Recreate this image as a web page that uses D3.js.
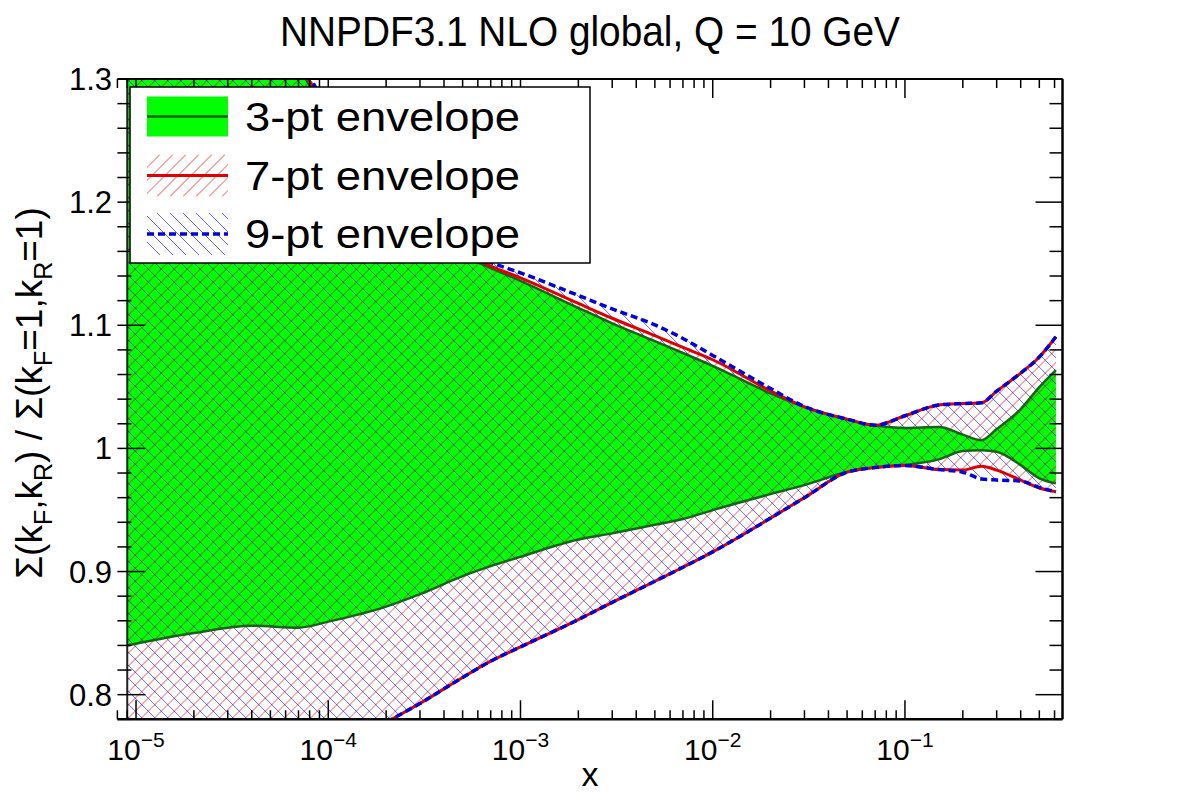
<!DOCTYPE html>
<html>
<head>
<meta charset="utf-8">
<script src="https://cdn.jsdelivr.net/npm/d3@7"></script>
<style>
  body { margin: 0; background: #fff; }
  svg { display: block; }
  text { font-family: "Liberation Sans", Arial, Helvetica, sans-serif; fill: #000; }
</style>
</head>
<body>
<svg width="1182" height="800"></svg>
<script>
// x grid (momentum fraction) and the six envelope curves
const xs = [9e-6, 2e-5, 4e-5, 7e-5, 1e-4, 2e-4, 3e-4, 5e-4, 7e-4, 1e-3, 2e-3, 3e-3, 5e-3, 7e-3,
  1e-2, 2e-2, 3e-2, 5e-2, 7e-2, 0.1, 0.15, 0.2, 0.25, 0.3, 0.4, 0.5, 0.61];

const env3Hi = [1.60, 1.48, 1.38, 1.310, 1.270, 1.208, 1.181, 1.157, 1.1465, 1.1361, 1.1141, 1.1016, 1.0871, 1.0775,
  1.067, 1.0447, 1.0337, 1.0236, 1.0188, 1.0166, 1.0173, 1.0112, 1.0067, 1.0157, 1.032, 1.0498, 1.0636];
const env3Lo = [0.840, 0.850, 0.856, 0.8544, 0.8593, 0.8715, 0.8816, 0.8963, 0.9044, 0.912, 0.926, 0.931, 0.938, 0.9426,
  0.9499, 0.9629, 0.9702, 0.9808, 0.9846, 0.9865, 0.9911, 0.9978, 0.9986, 0.9973, 0.9864, 0.9756, 0.9716];

const env7Hi = [1.61, 1.49, 1.385, 1.314, 1.273, 1.211, 1.1835, 1.159, 1.148, 1.1385, 1.1177, 1.1057, 1.0915, 1.082,
  1.072, 1.0467, 1.0338, 1.0237, 1.0188, 1.0265, 1.0352, 1.0364, 1.0370, 1.0465, 1.0612, 1.0742, 1.0907];
const env7Lo = [0.66, 0.69, 0.715, 0.735, 0.750, 0.7775, 0.7929, 0.814, 0.8272, 0.8388, 0.861, 0.875, 0.8921, 0.9035,
  0.916, 0.9434, 0.960, 0.9807, 0.9844, 0.9862, 0.9828, 0.9824, 0.9855, 0.9824, 0.9742, 0.9678, 0.9648];

const env9Hi = [1.62, 1.50, 1.39, 1.318, 1.276, 1.213, 1.1855, 1.161, 1.151, 1.1426, 1.1242, 1.1133, 1.1003, 1.0893,
  1.0755, 1.0486, 1.0340, 1.0238, 1.0188, 1.0265, 1.0352, 1.0364, 1.0370, 1.0465, 1.0612, 1.0742, 1.0907];
const env9Lo = [0.66, 0.69, 0.715, 0.735, 0.750, 0.7775, 0.7929, 0.814, 0.8272, 0.8388, 0.861, 0.875, 0.8921, 0.9035,
  0.916, 0.9434, 0.960, 0.9807, 0.9844, 0.9862, 0.9828, 0.9807, 0.9752, 0.9743, 0.9735, 0.9682, 0.9648];

const legendLabels = ["3-pt envelope", "7-pt envelope", "9-pt envelope"];
const xMajor = [1e-5, 1e-4, 1e-3, 1e-2, 1e-1];
const yLabels = [0.8, 0.9, 1, 1.1, 1.2, 1.3];

const svg = d3.select("svg");
const pL = 117.4, pR = 1062.5, pT = 79, pB = 719.3;

const x = d3.scaleLog().domain([8e-6, 0.66]).range([pL, pR]);
const y = d3.scaleLinear().domain([0.78, 1.3]).range([pB, pT]);

const defs = svg.append("defs");
defs.append("clipPath").attr("id", "plotClip")
  .append("rect").attr("x", pL).attr("y", pT).attr("width", pR - pL).attr("height", pB - pT);

// diagonal hatch lines inside a box, dir 1 = "/" , dir -1 = "\"
function hatchPath(x0, y0, x1, y1, s, dir) {
  const p = d3.path();
  if (dir > 0) {
    for (let c = x0 + y0; c <= x1 + y1 + s; c += s) { p.moveTo(c - y1, y1); p.lineTo(c - y0, y0); }
  } else {
    for (let c = x0 - y1 - s; c <= x1 - y0 + s; c += s) { p.moveTo(c + y0, y0); p.lineTo(c + y1, y1); }
  }
  return p.toString();
}
const redHatch = { stroke: "#dc0000", op: 0.42, w: 1.1, dir: 1 };
const blueHatch = { stroke: "#0000ff", op: 0.8, w: 0.75, dir: -1 };
function drawHatch(g, clipId, box, h) {
  g.append("path").attr("clip-path", `url(#${clipId})`)
    .attr("d", hatchPath(box[0], box[1], box[2], box[3], 13, h.dir))
    .attr("fill", "none").attr("stroke", h.stroke).attr("stroke-opacity", h.op).attr("stroke-width", h.w);
}

const band = (hi, lo) => xs.map((v, i) => ({ x: v, hi: hi[i], lo: lo[i] }));
const area = d3.area().x(d => x(d.x)).y0(d => y(d.lo)).y1(d => y(d.hi)).curve(d3.curveMonotoneX);
const lineHi = d3.line().x(d => x(d.x)).y(d => y(d.hi)).curve(d3.curveMonotoneX);
const lineLo = d3.line().x(d => x(d.x)).y(d => y(d.lo)).curve(d3.curveMonotoneX);

const b3 = band(env3Hi, env3Lo), b7 = band(env7Hi, env7Lo), b9 = band(env9Hi, env9Lo);
defs.append("clipPath").attr("id", "clip7").append("path").attr("d", area(b7));
defs.append("clipPath").attr("id", "clip9").append("path").attr("d", area(b9));

const plot = svg.append("g").attr("clip-path", "url(#plotClip)");
const box = [pL, pT, pR, pB];
plot.append("path").attr("d", area(b3)).attr("fill", "#00ff00");
drawHatch(plot, "clip7", box, redHatch);
drawHatch(plot, "clip9", box, blueHatch);

for (const gen of [lineHi, lineLo]) {
  plot.append("path").attr("d", gen(b3)).attr("fill", "none").attr("stroke", "#176317").attr("stroke-width", 2.5);
}
for (const gen of [lineHi, lineLo]) {
  plot.append("path").attr("d", gen(b7)).attr("fill", "none").attr("stroke", "#e00000").attr("stroke-width", 3);
}
for (const gen of [lineHi, lineLo]) {
  plot.append("path").attr("d", gen(b9)).attr("fill", "none").attr("stroke", "#0000e0")
    .attr("stroke-width", 3.5).attr("stroke-dasharray", "7,4");
}

// frame
const frame = svg.append("g").attr("stroke", "#000").attr("fill", "none");
frame.append("line").attr("x1", pL).attr("x2", pR).attr("y1", pT).attr("y2", pT).attr("stroke-width", 2);
frame.append("line").attr("x1", pL).attr("x2", pR).attr("y1", pB).attr("y2", pB).attr("stroke-width", 2.5);
frame.append("line").attr("x1", pR).attr("x2", pR).attr("y1", pT).attr("y2", pB).attr("stroke-width", 2.5);
frame.append("line").attr("x1", x(xs[0])).attr("x2", x(xs[0])).attr("y1", pT).attr("y2", pB)
  .attr("stroke", "#222").attr("stroke-width", 2);

// x ticks (bottom + top)
const isMajor = v => Math.abs(Math.log10(v) - Math.round(Math.log10(v))) < 1e-9;
for (const t of x.ticks()) {
  const len = isMajor(t) ? 19 : 9;
  frame.append("line").attr("x1", x(t)).attr("x2", x(t)).attr("y1", pB).attr("y2", pB - len).attr("stroke-width", 1.5);
  frame.append("line").attr("x1", x(t)).attr("x2", x(t)).attr("y1", pT).attr("y2", pT + len).attr("stroke-width", 1.5);
}
// y ticks (left + right)
for (let i = 39; i <= 65; i++) {
  const v = i / 50, major = i % 5 === 0;
  frame.append("line").attr("x1", pL).attr("x2", pL + (major ? 28 : 14)).attr("y1", y(v)).attr("y2", y(v)).attr("stroke-width", 1.5);
  frame.append("line").attr("x1", pR).attr("x2", pR - (major ? 27 : 13)).attr("y1", y(v)).attr("y2", y(v)).attr("stroke-width", 1.5);
}

// tick labels
svg.append("g").selectAll("text").data(yLabels).join("text")
  .attr("x", 112).attr("y", d => y(d) + 11).attr("text-anchor", "end").attr("font-size", 31)
  .text(d => String(d));

const xl = svg.append("g").selectAll("text").data(xMajor).join("text")
  .attr("x", d => x(d)).attr("y", 760).attr("text-anchor", "middle").attr("font-size", 30);
xl.append("tspan").text("10");
xl.append("tspan").attr("dy", -13).attr("font-size", 21).text(d => "\u2212" + Math.round(-Math.log10(d)));

// axis titles
svg.append("text").attr("x", 590).attr("y", 786).attr("text-anchor", "middle").attr("font-size", 34).text("x");

const yt = svg.append("text").attr("transform", "translate(42,393) rotate(-90)")
  .attr("text-anchor", "middle").attr("font-size", 37);
const parts = [["Σ(k", 0], ["F", 1], [",k", 0], ["R", 1], [") / Σ(k", 0], ["F", 1], ["=1,k", 0], ["R", 1], ["=1)", 0]];
let lvl = 0;
for (const [s, sub] of parts) {
  const dy = (sub ? 10 : 0) - (lvl ? 10 : 0);
  yt.append("tspan").attr("dy", dy).attr("font-size", sub ? 25 : 37).text(s);
  lvl = sub;
}

// title
svg.append("text").attr("x", 590).attr("y", 46).attr("text-anchor", "middle").attr("font-size", 42)
  .attr("textLength", 620).attr("lengthAdjust", "spacingAndGlyphs")
  .text("NNPDF3.1 NLO global, Q = 10 GeV");

// legend
const lg = svg.append("g");
lg.append("rect").attr("x", 130).attr("y", 87).attr("width", 460).attr("height", 176)
  .attr("fill", "#fff").attr("stroke", "#000").attr("stroke-width", 1.5);
const rowY = [116.5, 175.5, 234];
lg.append("rect").attr("x", 147).attr("y", rowY[0] - 20).attr("width", 81).attr("height", 40).attr("fill", "#00ff00");
lg.append("line").attr("x1", 147).attr("x2", 228).attr("y1", rowY[0]).attr("y2", rowY[0]).attr("stroke", "#176317").attr("stroke-width", 2.5);
[[1, redHatch], [2, blueHatch]].forEach(([i, h]) => {
  defs.append("clipPath").attr("id", "lgClip" + i)
    .append("rect").attr("x", 147).attr("y", rowY[i] - 21).attr("width", 81).attr("height", 42);
  drawHatch(lg, "lgClip" + i, [147, rowY[i] - 21, 228, rowY[i] + 21], h);
});
lg.append("line").attr("x1", 147).attr("x2", 228).attr("y1", rowY[1]).attr("y2", rowY[1]).attr("stroke", "#e00000").attr("stroke-width", 3);
lg.append("line").attr("x1", 147).attr("x2", 228).attr("y1", rowY[2]).attr("y2", rowY[2]).attr("stroke", "#0000e0")
  .attr("stroke-width", 3.5).attr("stroke-dasharray", "7,4");
lg.selectAll("text.lab").data(legendLabels).join("text").attr("class", "lab")
  .attr("x", 245).attr("y", (d, i) => rowY[i] + 14).attr("font-size", 40)
  .attr("textLength", 275).attr("lengthAdjust", "spacingAndGlyphs").text(d => d);
</script>
</body>
</html>
